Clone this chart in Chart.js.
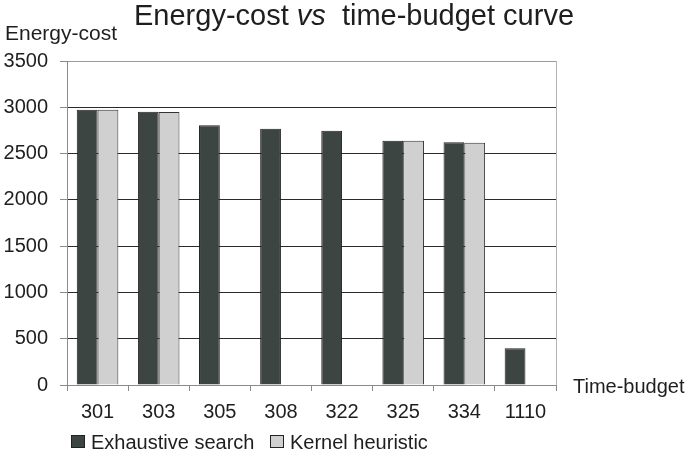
<!DOCTYPE html>
<html>
<head>
<meta charset="utf-8">
<script src="https://cdn.jsdelivr.net/npm/chart.js@4/dist/chart.umd.min.js"></script>
<style>
  html, body { margin: 0; padding: 0; background: #ffffff; }
  #wrap { width: 689px; height: 455px; position: relative; }
</style>
</head>
<body>
<div id="wrap"><canvas id="chart" width="689" height="455"></canvas></div>
<script>
// Time budgets on the x axis
const timeBudgets = ['301', '303', '305', '308', '322', '325', '334', '1110'];
// Energy cost found by each method (null where the heuristic has no result)
const exhaustiveSearch = [2974, 2952, 2805, 2769, 2747, 2639, 2622, 396];
const kernelHeuristic  = [2974, 2949, null, null, null, 2639, 2618, null];
// Energy-cost axis ticks
const yTicks = [0, 500, 1000, 1500, 2000, 2500, 3000, 3500];

const seriesNames = ['Exhaustive search', 'Kernel heuristic'];
const seriesFill = ['#3d4543', '#d0d0d0'];
const FONT = "'Liberation Sans', Arial, Helvetica, sans-serif";
const TEXT = '#1e1e1e';

// Title, axis captions, legend and the plot frame
const decorations = {
  id: 'decorations',
  afterDraw(chart) {
    const ctx = chart.ctx;
    const area = chart.chartArea;
    ctx.save();

    // right edge of the plot frame
    ctx.strokeStyle = '#b4b4b4';
    ctx.lineWidth = 1;
    ctx.beginPath();
    ctx.moveTo(Math.round(area.right) + 0.5, area.top);
    ctx.lineTo(Math.round(area.right) + 0.5, area.bottom);
    ctx.stroke();

    ctx.fillStyle = TEXT;
    ctx.textBaseline = 'alphabetic';

    // title with italic "vs"
    const reg = '29px ' + FONT;
    const ita = 'italic 29px ' + FONT;
    const p1 = 'Energy-cost ', p2 = 'vs', p3 = '  time-budget curve';
    ctx.font = reg; const w1 = ctx.measureText(p1).width, w3 = ctx.measureText(p3).width;
    ctx.font = ita; const w2 = ctx.measureText(p2).width;
    let x = 354 - (w1 + w2 + w3) / 2;
    const ty = 25;
    ctx.textAlign = 'left';
    ctx.font = reg; ctx.fillText(p1, x, ty); x += w1;
    ctx.font = ita; ctx.fillText(p2, x, ty); x += w2;
    ctx.font = reg; ctx.fillText(p3, x, ty);

    // axis captions
    ctx.font = '21px ' + FONT;
    ctx.fillText('Energy-cost', 5, 40);
    ctx.font = '20px ' + FONT;
    ctx.textBaseline = 'middle';
    ctx.fillText('Time-budget', area.right + 17, area.bottom + 2);

    // legend
    ctx.textBaseline = 'alphabetic';
    const legendX = [71, 270];
    chart.data.datasets.forEach((ds, i) => {
      const bx = legendX[i];
      ctx.fillStyle = ds.backgroundColor;
      ctx.fillRect(bx, 435, 14, 13);
      ctx.strokeStyle = '#222222';
      ctx.lineWidth = 1;
      ctx.strokeRect(bx + 0.5, 435.5, 13, 12);
      ctx.fillStyle = TEXT;
      ctx.font = '20px ' + FONT;
      ctx.fillText(ds.label, bx + 20, 449);
    });

    ctx.restore();
  }
};

new Chart(document.getElementById('chart'), {
  type: 'bar',
  data: {
    labels: timeBudgets,
    datasets: [
      {
        label: seriesNames[0],
        data: exhaustiveSearch,
        backgroundColor: seriesFill[0],
        borderColor: '#222222',
        borderWidth: 1
      },
      {
        label: seriesNames[1],
        data: kernelHeuristic,
        backgroundColor: seriesFill[1],
        borderColor: '#333333',
        borderWidth: 1
      }
    ]
  },
  options: {
    responsive: false,
    animation: false,
    events: [],
    datasets: {
      bar: { categoryPercentage: 0.68, barPercentage: 1.0 }
    },
    layout: { padding: { top: 61, right: 133, bottom: 0, left: 0 } },
    plugins: {
      legend: { display: false },
      title: { display: false },
      tooltip: { enabled: false }
    },
    scales: {
      x: {
        offset: true,
        afterFit(scale) { scale.height = 70; },
        grid: {
          offset: true,
          drawOnChartArea: false,
          drawTicks: true,
          tickLength: 6,
          color: '#8a8a8a'
        },
        border: { display: true, color: '#8a8a8a', width: 1 },
        ticks: {
          color: TEXT,
          font: { family: FONT, size: 20 },
          padding: 9,
          maxRotation: 0,
          autoSkip: false
        }
      },
      y: {
        min: 0,
        max: 3500,
        afterFit(scale) { scale.width = 67; },
        afterBuildTicks(scale) { scale.ticks = yTicks.map(v => ({ value: v })); },
        grid: {
          drawTicks: true,
          tickLength: 7,
          color: (c) => (c.tick && (c.tick.value === 3500 || c.tick.value === 0)) ? '#9a9a9a' : '#2a2a2a',
          tickColor: '#8a8a8a'
        },
        border: { display: true, color: '#8a8a8a', width: 1 },
        ticks: {
          color: TEXT,
          font: { family: FONT, size: 20 },
          padding: 12,
          callback: (v) => String(v)
        }
      }
    }
  },
  plugins: [decorations]
});
</script>
</body>
</html>
